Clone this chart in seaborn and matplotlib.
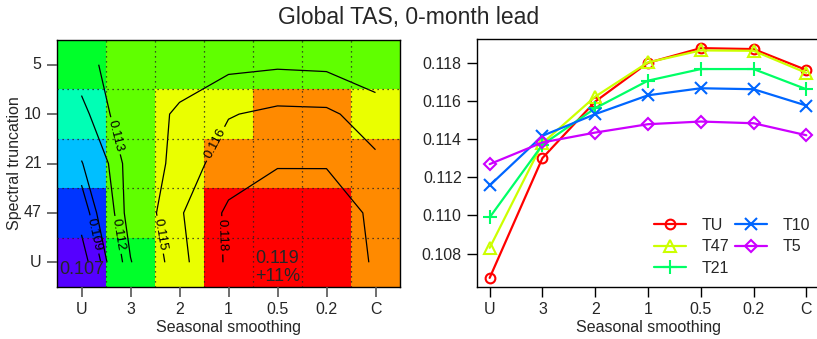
import numpy as np
import pandas as pd
import matplotlib
matplotlib.use("Agg")
import matplotlib.pyplot as plt
import matplotlib.colors as mcolors
from matplotlib.ticker import FixedLocator
import seaborn as sns

# columns of the heatmap / x axis of the line plot
smoothing = ["U", "3", "2", "1", "0.5", "0.2", "C"]
# rows of the heatmap, top to bottom
truncation = ["5", "10", "21", "47", "U"]

# skill values, one list per spectral truncation
t5 = [0.1127, 0.11384, 0.11436, 0.1148, 0.11494, 0.11485, 0.11422]
t10 = [0.11158, 0.11419, 0.11533, 0.11632, 0.11669, 0.11664, 0.11578]
t21 = [0.1099, 0.11372, 0.11564, 0.11709, 0.1177, 0.1177, 0.11664]
t47 = [0.1083, 0.1138, 0.11625, 0.11805, 0.11868, 0.11866, 0.1175]
tu = [0.10672, 0.11302, 0.11599, 0.11803, 0.1188, 0.11875, 0.11765]

# colour breaks of the heatmap (also the contour levels)
breaks = [0.1076, 0.1092, 0.1100, 0.1120, 0.1131, 0.1151, 0.1164, 0.1178]
labelled = [0.1092, 0.1120, 0.1131, 0.1151, 0.1164, 0.1178]
# where the contour labels sit (cell units)
label_spots = [(0.70, 3.95), (1.22, 3.95), (1.15, 1.95), (2.05, 3.95), (2.95, 1.95), (3.5, 3.95)]

series_names = ["TU", "T47", "T21", "T10", "T5"]
series_vals = [tu, t47, t21, t10, t5]
series_colors = ["#FF0000", "#CCFF00", "#00FF66", "#0066FF", "#CC00FF"]
series_markers = ["o", "^", "+", "x", "D"]
series_msize = [7, 8, 10, 8, 6.5]

sns.set_style("ticks")
plt.rcParams["font.family"] = ["Liberation Sans", "DejaVu Sans"]
plt.rcParams["axes.linewidth"] = 1.0

fig = plt.figure(figsize=(8.17, 3.39), dpi=100)
W, H = 817, 339
ax1 = fig.add_axes([57 / W, (H - 287) / H, (400 - 57) / W, (287 - 40) / H])
ax2 = fig.add_axes([477 / W, (H - 287) / H, (819 - 477) / W, (287 - 39) / H])

# ---- left: binned heatmap with contours
grid = pd.DataFrame([t5, t10, t21, t47, tu], index=truncation, columns=smoothing)
hues = np.linspace(260 / 360, 0, len(breaks) + 1)
cmap = mcolors.ListedColormap([mcolors.hsv_to_rgb((h, 1, 1)) for h in hues])
norm = mcolors.BoundaryNorm([0.1] + breaks + [0.13], cmap.N)

sns.heatmap(grid, cmap=cmap, norm=norm, cbar=False, ax=ax1)
for s in ax1.spines.values():
    s.set_visible(True)
    s.set_color("black")
ax1.set_yticklabels(truncation, rotation=0)
ax1.set_xticklabels(smoothing, rotation=0)
ax1.tick_params(axis="both", length=7, width=1.2, color="#555555", labelsize=11.5, pad=4)

# dotted grid at cell boundaries
ax1.xaxis.set_minor_locator(FixedLocator(np.arange(1, len(smoothing))))
ax1.yaxis.set_minor_locator(FixedLocator(np.arange(1, len(truncation))))
ax1.tick_params(which="minor", length=0)
ax1.set_axisbelow(False)
ax1.grid(which="minor", color="#222222", linestyle=(0, (1, 3)), linewidth=0.9)

xs = np.arange(len(smoothing)) + 0.5
ys = np.arange(len(truncation)) + 0.5
plain = [b for b in breaks if b not in labelled]
ax1.contour(xs, ys, grid.values, levels=plain, colors="black", linewidths=0.9)
cs = ax1.contour(xs, ys, grid.values, levels=labelled, colors="black", linewidths=0.9)
ax1.clabel(cs, fmt="%.3f", fontsize=9.5, inline=True, inline_spacing=3, manual=label_spots)

vals = grid.values
rmin, cmin = np.unravel_index(np.argmin(vals), vals.shape)
rmax, cmax = np.unravel_index(np.argmax(vals), vals.shape)
ax1.text(cmin + 0.5, rmin + 0.65, f"{vals.min():.3f}", ha="center", va="center", fontsize=13)
ax1.text(cmax + 0.5, rmax + 0.6, f"{vals.max():.3f}\n+{(vals.max() / vals.min() - 1) * 100:.0f}%",
         ha="center", va="center", fontsize=13, linespacing=1.1)

ax1.set_xlabel("Seasonal smoothing", fontsize=11.5, labelpad=2)
ax1.set_ylabel("Spectral truncation", fontsize=11.5, labelpad=1)

# ---- right: line plot
pos = np.arange(len(smoothing))
for name, v, c, m, ms in zip(series_names, series_vals, series_colors, series_markers, series_msize):
    sns.lineplot(x=pos, y=v, ax=ax2, color=c, marker=m, markersize=ms,
                 markerfacecolor="none", markeredgecolor=c, markeredgewidth=1.5,
                 linewidth=1.6, label=name)

ax2.set_xlim(-0.24, 6.24)
ax2.set_ylim(0.10624, 0.11928)
ax2.set_xticks(pos)
ax2.set_xticklabels(smoothing)
yt = [0.108, 0.110, 0.112, 0.114, 0.116, 0.118]
ax2.set_yticks(yt)
ax2.set_yticklabels([f"{t:.3f}" for t in yt])
ax2.tick_params(axis="both", length=7, width=1.0, color="black", labelsize=11.5, pad=4)
ax2.set_xlabel("Seasonal smoothing", fontsize=11.5, labelpad=2)
ax2.set_ylabel("")
for s in ax2.spines.values():
    s.set_visible(True)
    s.set_color("black")

ax2.legend(ncol=2, loc="lower right", frameon=False, fontsize=11.5,
           handlelength=2.0, columnspacing=0.35, handletextpad=1.0,
           labelspacing=0.4, borderaxespad=0, bbox_to_anchor=(0.994, 0.02))

fig.text(0.5, 1 - 17.5 / H, "Global TAS, 0-month lead", ha="center", va="center", fontsize=16.5)

fig.savefig("out.png", dpi=100)
